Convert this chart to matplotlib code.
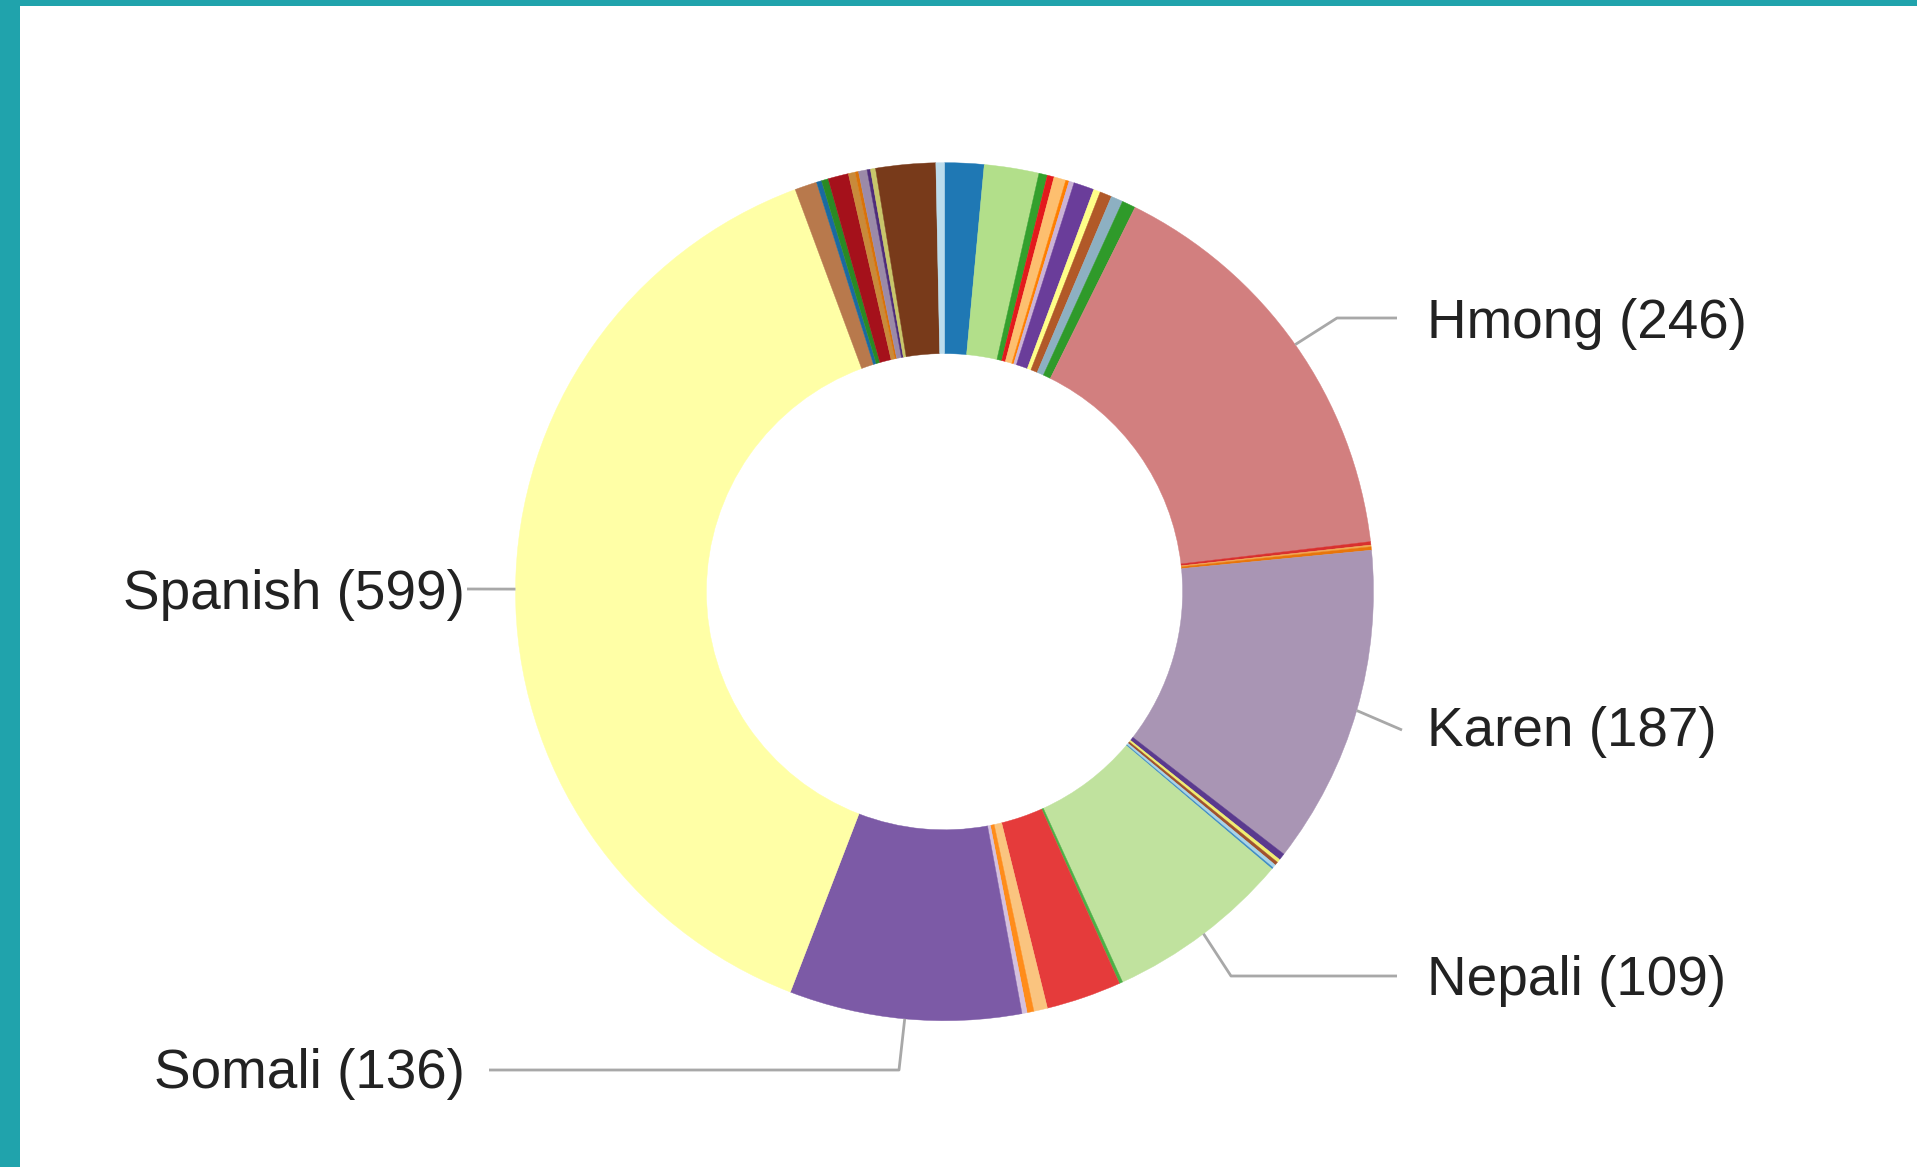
# ==============================
# LANGUAGES DONUT CHART
# ==============================

import numpy as np
import matplotlib
matplotlib.use("Agg")
import matplotlib.pyplot as plt
from matplotlib.patches import Rectangle

# ==============================
# DATA
# ==============================

# only the five big slices are named on the chart
languages = ["", "", "", "", "", "", "", "", "", "",
             "", "", "Hmong", "", "", "", "Karen", "", "", "",
             "", "", "Nepali", "", "", "", "", "", "Somali", "Spanish",
             "", "", "", "", "", "", "", "", "", "", ""]

speakers = [23, 32, 5, 4, 7, 2, 3, 12, 4, 7,
            7, 8, 246, 2, 1, 2, 187, 4, 2, 2,
            2, 1, 109, 2, 44, 8, 4, 3, 136, 599,
            13, 3, 4, 12, 4, 2, 5, 2, 3, 35, 5]

slice_colors = ["#1f78b4", "#b2df8a", "#33a02c", "#e31a1c", "#fdbf6f",
                "#ff7f00", "#cab2d6", "#6a3d9a", "#ffff88", "#b15928",
                "#8db0c2", "#2f9a2a", "#d27f7f", "#d8302f", "#f0a850",
                "#e8750a", "#a995b4", "#5a3a8e", "#f0ee70", "#a0522d",
                "#a8d4e8", "#3d8cc4", "#c0e29e", "#4cb045", "#e53b3b",
                "#fac47f", "#ff8c1a", "#d4c0de", "#7c5aa6", "#ffffa6",
                "#b8794c", "#1a6aa0", "#2a8a24", "#a5111b", "#c98a3a",
                "#d9730a", "#9b8aa8", "#4e2c7a", "#c8c66a", "#783a1a",
                "#bcdcec"]

# ==============================
# FIGURE
# ==============================

W, H = 1917, 1167
fig = plt.figure(figsize=(W / 100, H / 100), dpi=100)
fig.patch.set_facecolor("white")

# teal frame on top and left
teal = "#20a3ac"
fig.patches.append(Rectangle((0, 1 - 6 / H), 1, 6 / H, transform=fig.transFigure,
                             facecolor=teal, edgecolor="none"))
fig.patches.append(Rectangle((0, 0), 20 / W, 1, transform=fig.transFigure,
                             facecolor=teal, edgecolor="none"))

# pie axes: centre (944, 592) px, radius 429 px
cx, cy, R = 944.5, 591.7, 429
ax = fig.add_axes([(cx - R) / W, (H - cy - R) / H, 2 * R / W, 2 * R / H])
wedges, _ = ax.pie(speakers, colors=slice_colors, startangle=90, counterclock=False,
                   radius=1, wedgeprops=dict(width=1 - 0.555, linewidth=0.3))
for w in wedges:
    w.set_edgecolor(w.get_facecolor())
ax.set_xlim(-1, 1)
ax.set_ylim(-1, 1)
ax.axis("off")

# overlay in pixel coords for leader lines and labels
over = fig.add_axes([0, 0, 1, 1])
over.set_xlim(0, W)
over.set_ylim(H, 0)
over.axis("off")

# label layout: text anchor, elbow, line end (pixels)
layout = {
    "Hmong":   dict(text=(1427, 324), ha="left",  elbow=(1337, 318), end=(1397, 318)),
    "Karen":   dict(text=(1427, 732), ha="left",  elbow=(1402, 730), end=(1402, 730)),
    "Nepali":  dict(text=(1427, 981), ha="left",  elbow=(1231, 976), end=(1397, 976)),
    "Somali":  dict(text=(465, 1074), ha="right", elbow=(899, 1070), end=(489, 1070)),
    "Spanish": dict(text=(465, 595),  ha="right", elbow=(467, 589),  end=(467, 589)),
}

vals = np.array(speakers, dtype=float)
cum = np.cumsum(vals)
mid = (cum - vals / 2) / vals.sum() * 360  # clockwise from 12 o'clock

to_px = ax.transData + over.transData.inverted()

for i, name in enumerate(languages):
    if not name:
        continue
    a = np.radians(mid[i])
    x0, y0 = to_px.transform((np.sin(a), np.cos(a)))
    lay = layout[name]
    xs = [x0, lay["elbow"][0], lay["end"][0]]
    ys = [y0, lay["elbow"][1], lay["end"][1]]
    over.plot(xs, ys, color="#a8a8a8", lw=2.0, solid_capstyle="butt")
    over.text(lay["text"][0], lay["text"][1], f"{name} ({speakers[i]})",
              ha=lay["ha"], va="center", fontsize=39.5,
              family="Liberation Sans", color="#222222")

fig.savefig("out.png", dpi=100, facecolor="white")
